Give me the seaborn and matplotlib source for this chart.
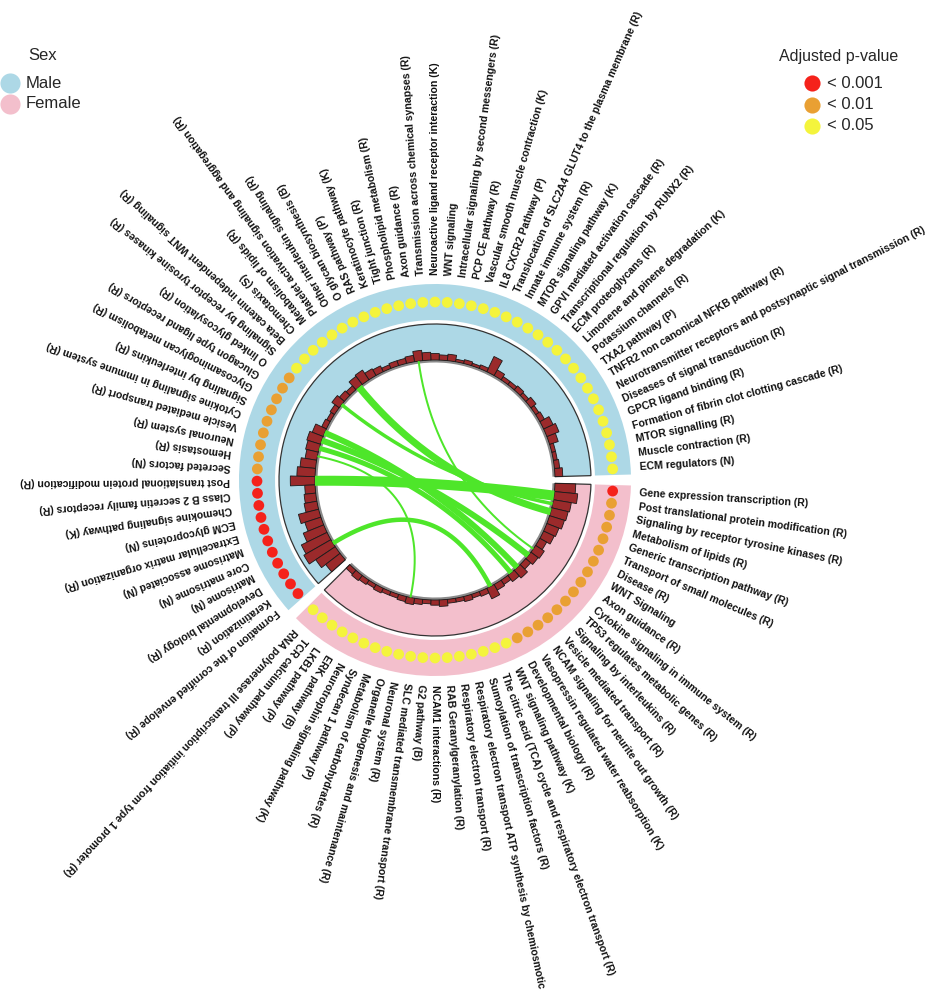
import numpy as np
import matplotlib
matplotlib.use("Agg")
import matplotlib.pyplot as plt
import seaborn as sns
import pandas as pd

# ---------------- data ----------------
male_pathways = [
    "ECM regulators (N)", "Muscle contraction (R)", "MTOR signalling (R)",
    "Formation of fibrin clot clotting cascade (R)", "GPCR ligand binding (R)",
    "Diseases of signal transduction (R)",
    "Neurotransmitter receptors and postsynaptic signal transmission (R)",
    "TNFR2 non canonical NFKB pathway (R)", "TXA2 pathway (P)", "Potassium channels (R)",
    "Limonene and pinene degradation (K)", "ECM proteoglycans (R)",
    "Transcriptional regulation by RUNX2 (R)", "GPVI mediated activation cascade (R)",
    "MTOR signaling pathway (K)", "Innate immune system (R)",
    "Translocation of SLC2A4 GLUT4 to the plasma membrane (R)", "IL8 CXCR2 Pathway (P)",
    "Vascular smooth muscle contraction (K)", "PCP CE pathway (R)",
    "Intracellular signaling by second messengers (R)", "WNT signaling",
    "Neuroactive ligand receptor interaction (K)", "Transmission across chemical synapses (R)",
    "Axon guidance (R)", "Phospholipid metabolism (R)", "Tight junction (R)",
    "Keratinocyte pathway (K)", "RAS pathway (P)", "O glycan biosynthesis (B)",
    "Other interleukin signaling (R)", "Platelet activation signaling and aggregation (R)",
    "Metabolism of lipids (R)", "Chemotaxis (S)",
    "Beta catenin independent WNT signaling (R)", "Signaling by receptor tyrosine kinases (R)",
    "O linked glycosylation (R)", "Glucagon type ligand receptors (R)",
    "Glycosaminoglycan metabolism (R)", "Signaling by interleukins (R)",
    "Cytokine signaling in immune system (R)", "Vesicle mediated transport (R)",
    "Neuronal system (R)", "Hemostasis (R)", "Secreted factors (N)",
    "Post translational protein modification (R)", "Class B 2 secretin family receptors (R)",
    "Chemokine signaling pathway (K)", "ECM glycoproteins (N)",
    "Extracellular matrix organization (R)", "Matrisome associated (N)", "Core matrisome (N)",
    "Matrisome (N)", "Developmental biology (R)", "Keratinization (R)",
    "Formation of the cornified envelope (R)",
]
female_pathways = [
    "Gene expression transcription (R)", "Post translational protein modification (R)",
    "Signaling by receptor tyrosine kinases (R)", "Metabolism of lipids (R)",
    "Generic transcription pathway (R)", "Transport of small molecules (R)", "Disease (R)",
    "WNT Signaling", "Axon guidance (R)", "Cytokine signaling in immune system (R)",
    "TP53 regulates metabolic genes (R)", "Signaling by interleukins (R)",
    "Vesicle mediated transport (R)", "NCAM signaling for neurite out growth (R)",
    "Vasopressin regulated water reabsorption (K)", "Developmental biology (R)",
    "WNT signaling pathway (K)",
    "The citric acid (TCA) cycle and respiratory electron transport (R)",
    "Sumoylation of transcription factors (R)",
    "Respiratory electron transport ATP synthesis by chemiosmotic",
    "Respiratory electron transport (R)", "RAB Geranylgeranylation (R)",
    "NCAM1 interactions (R)", "G2 pathway (B)", "SLC mediated transmembrane transport (R)",
    "Neuronal system (R)", "Organelle biogenesis and maintenance (R)",
    "Metabolism of carbohydrates (R)", "Syndecan 1 pathway (P)",
    "Neurotrophin signaling pathway (K)", "ERK pathway (B)", "LKB1 pathway (P)",
    "TCR calcium pathway (P)",
    "RNA polymerase III transcription initiation from type 1 promoter (R)",
]
# adjusted p-value class: 1 = <0.001, 2 = <0.01, 3 = <0.05
male_padj = [3, 3, 3, 3, 3, 3, 3, 3, 3, 3, 3, 3, 3, 3, 3, 3, 3, 3, 3, 3,
             3, 3, 3, 3, 3, 3, 3, 3, 3, 3, 3, 3, 3, 3, 3, 3, 2, 2, 2, 2,
             2, 2, 2, 2, 2, 1, 1, 1, 1, 1, 1, 1, 1, 1, 1, 1]
female_padj = [1, 2, 2, 2, 2, 2, 2, 2, 2, 2, 2, 2, 2, 2, 2, 2, 3, 3, 3, 3,
               3, 3, 3, 3, 3, 3, 3, 3, 3, 3, 3, 3, 3, 3]
# histogram track (gene counts)
male_genes = [6, 4, 3, 3, 7, 10, 8, 4, 3, 5, 3, 4, 3, 3, 5, 13, 3, 2, 3, 2,
              5, 4, 5, 6, 8, 5, 4, 4, 3, 5, 6, 9, 8, 4, 5, 7, 4, 3, 4, 9,
              11, 10, 9, 12, 14, 19, 8, 9, 10, 16, 13, 17, 22, 24, 18, 14]
female_genes = [16, 18, 14, 13, 12, 10, 9, 6, 8, 7, 5, 8, 6, 4, 5, 9, 4, 3, 4, 3,
                3, 5, 4, 3, 4, 5, 4, 3, 3, 4, 3, 4, 5, 4]
# links between the same pathway enriched in both sexes
link_pathways = ["Post translational protein modification (R)", "Metabolism of lipids (R)",
                 "Signaling by receptor tyrosine kinases (R)",
                 "Cytokine signaling in immune system (R)", "Signaling by interleukins (R)",
                 "Vesicle mediated transport (R)", "Neuronal system (R)", "Axon guidance (R)",
                 "Developmental biology (R)"]
link_weight = [10, 7, 3.5, 6, 6, 5, 2, 2, 4.5]

padj_labels = {1: "< 0.001", 2: "< 0.01", 3: "< 0.05"}
padj_colors = {"< 0.001": "#F5221B", "< 0.01": "#E9A033", "< 0.05": "#F4F43C"}
sex_colors = {"Male": "#ADD8E6", "Female": "#F3BFCC"}
bar_color = "#9B2A2B"
link_color = "#4EE62A"

# ---------------- style ----------------
sns.set_theme(style="white")
plt.rcParams['font.family'] = ['Liberation Sans', 'DejaVu Sans']

W, H = 934, 1000
CX, CY = 435, 480
RMAX = 200
fig = plt.figure(figsize=(W / 100, H / 100), dpi=100)
ax = fig.add_axes([(CX - RMAX) / W, (H - CY - RMAX) / H, 2 * RMAX / W, 2 * RMAX / H],
                  projection='polar')
ax.set_ylim(0, RMAX)
ax.set_axis_off()

nm, nf = len(male_pathways), len(female_pathways)
gap = 3.2
step = (360 - 2 * gap) / (nm + nf)
male_deg = gap / 2 + step * (np.arange(nm) + 0.5)
female_deg = 360 - gap / 2 - step * (np.arange(nf) + 0.5)
male_th = np.deg2rad(male_deg)
female_th = np.deg2rad(female_deg)

R_OUT0, R_OUT1 = 160, 196
R_DOT = 178
R_TR0, R_TR1 = 120, 156
R_LAB = 205
BAR_SCALE = 1.3

spans = {"Male": (gap / 2 + step * nm / 2, step * nm),
         "Female": (360 - gap / 2 - step * nf / 2, step * nf)}
for sex, (mid, wid) in spans.items():
    c = sex_colors[sex]
    ax.bar(np.deg2rad(mid), R_OUT1 - R_OUT0, width=np.deg2rad(wid), bottom=R_OUT0,
           color=c, linewidth=0, zorder=1)
    ax.bar(np.deg2rad(mid), R_TR1 - R_TR0, width=np.deg2rad(wid), bottom=R_TR0,
           color=c, edgecolor="#333333", linewidth=0.9, zorder=1)
    ax.bar(np.deg2rad(mid), 2.5, width=np.deg2rad(wid), bottom=R_TR0 - 2.5,
           color="#8a8a8a", linewidth=0, zorder=2)

# histogram bars
ax.bar(male_th, np.array(male_genes) * BAR_SCALE, width=np.deg2rad(step), bottom=R_TR0,
       color=bar_color, edgecolor="#1a1a1a", linewidth=0.6, zorder=3)
ax.bar(female_th, np.array(female_genes) * BAR_SCALE, width=np.deg2rad(step), bottom=R_TR0,
       color=bar_color, edgecolor="#1a1a1a", linewidth=0.6, zorder=3)

# p-value dots
df = pd.DataFrame({
    "theta": np.concatenate([male_th, female_th]),
    "r": R_DOT,
    "padj": [padj_labels[v] for v in male_padj + female_padj],
})
sns.scatterplot(data=df, x="theta", y="r", hue="padj", palette=padj_colors,
                s=60, linewidth=0, legend=False, ax=ax, zorder=4)
ax.set_xlabel("")
ax.set_ylabel("")

# labels
for th, deg, name in list(zip(male_th, male_deg, male_pathways)) + \
        list(zip(female_th, female_deg, female_pathways)):
    ax.text(th, R_LAB, name, rotation=deg, rotation_mode="anchor", ha="left",
            va="center", fontsize=7.6, fontweight="bold", color="#111111")

# links (quadratic bezier through the centre)
t = np.linspace(0, 1, 200)
for name, w in zip(link_pathways, link_weight):
    a = np.deg2rad(male_deg[male_pathways.index(name)])
    b = np.deg2rad(female_deg[female_pathways.index(name)])
    A = R_TR0 * np.array([np.cos(a), np.sin(a)])
    B = R_TR0 * np.array([np.cos(b), np.sin(b)])
    x = (1 - t) ** 2 * A[0] + t ** 2 * B[0]
    y = (1 - t) ** 2 * A[1] + t ** 2 * B[1]
    ax.plot(np.unwrap(np.arctan2(y, x)), np.hypot(x, y), color=link_color,
            linewidth=w * 0.72, solid_capstyle="butt", zorder=5)

# ---------------- legends ----------------
lax = fig.add_axes([0, 0, 1, 1])
lax.set_xlim(0, W)
lax.set_ylim(H, 0)
lax.set_axis_off()

sex_names = ["Male", "Female"]
lax.text(28, 56, "Sex", fontsize=12, va="center", ha="left")
for k, sname in enumerate(sex_names):
    yy = 83 + 21 * k
    lax.scatter([10], [yy], s=210, color=sex_colors[sname], linewidth=0)
    lax.text(26, yy, sname, fontsize=12, va="center", ha="left")

lax.text(779, 57, "Adjusted p-value", fontsize=11.5, va="center", ha="left")
for k, lab in enumerate(["< 0.001", "< 0.01", "< 0.05"]):
    yy = 83 + 21.5 * k
    lax.scatter([812], [yy], s=135, color=padj_colors[lab], linewidth=0)
    lax.text(827, yy, lab, fontsize=12, va="center", ha="left")

fig.savefig("out.png", dpi=100)
